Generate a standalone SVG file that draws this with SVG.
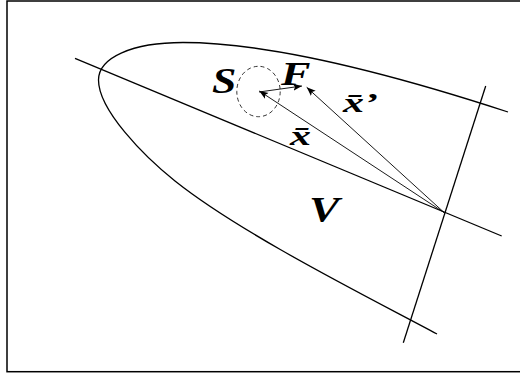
<svg xmlns="http://www.w3.org/2000/svg" width="520" height="377" viewBox="0 0 520 377">
<style>
.ln{fill:none;stroke:#000;stroke-width:1.3}
.ar{fill:none;stroke:#000;stroke-width:0.9;marker-end:url(#ah)}
.lb{font-family:"Liberation Serif","Times New Roman",serif;font-weight:bold;font-style:italic;fill:#000}
</style>
<defs>
<marker id="ah" markerUnits="userSpaceOnUse" markerWidth="10" markerHeight="8" refX="9" refY="3.5" orient="auto">
<path d="M0,0 L9,3.5 L0,7 L2,3.5 z" fill="#000"/>
</marker>
</defs>
<rect x="7" y="1" width="530" height="370.7" fill="#fff" stroke="#000" stroke-width="1.5"/>
<g id="region">
<path class="ln" d="M508,112 C365.5,65.5 257,42.5 183,42.5 C132.3,42.5 98.5,57.5 98.5,80 C98.5,110 143.8,156.2 175,181 C241.3,233.7 362.2,294 437,334"/>
</g>
<g id="axis">
<line class="ln" x1="75" y1="58.3" x2="501.7" y2="236"/>
</g>
<g id="transversal">
<line class="ln" x1="485.7" y1="86" x2="403.3" y2="342.7"/>
</g>
<g id="S">
<ellipse cx="258.5" cy="91.5" rx="21.7" ry="25.2" fill="none" stroke="#000" stroke-width="0.8" stroke-dasharray="4,3"/>
<text class="lb" font-size="35" transform="translate(212,92.5) scale(1.25,1)">S</text>
</g>
<g id="F">
<text class="lb" font-size="34" transform="translate(281,85) scale(1.3,1)">F</text>
</g>
<g id="V">
<text class="lb" font-size="35" transform="translate(309,221.5) scale(1.3,1)">V</text>
</g>
<g id="xbar">
<text class="lb" font-size="28" transform="translate(290,145) scale(1.5,1)">x̄</text>
</g>
<g id="xbarprime">
<text class="lb" font-size="28" transform="translate(343,111.7) scale(1.5,1)">x̄’</text>
</g>
<g id="connectors">
<line class="ar" x1="444.3" y1="212.7" x2="259.3" y2="91"/>
<line class="ar" x1="444.3" y1="212.7" x2="306.7" y2="87.3"/>
<line class="ar" x1="259" y1="92" x2="302" y2="86"/>
</g>
</svg>
